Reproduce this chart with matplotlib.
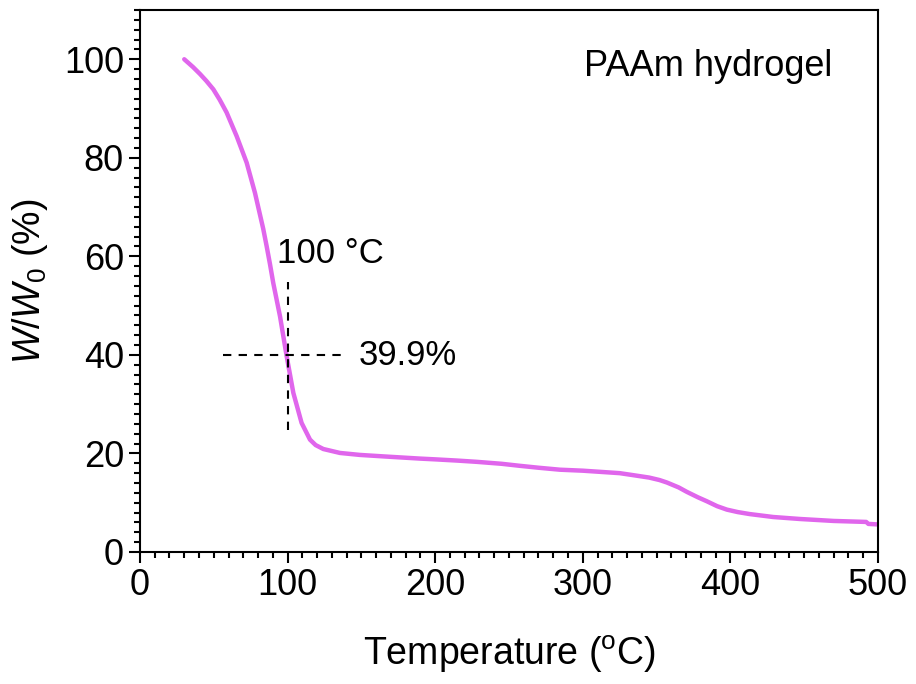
import matplotlib
matplotlib.use('Agg')
import matplotlib.pyplot as plt
from matplotlib.ticker import MultipleLocator

plt.rcParams['font.family'] = ['Liberation Sans', 'DejaVu Sans']
plt.rcParams['mathtext.fontset'] = 'custom'
plt.rcParams['mathtext.rm'] = 'Liberation Sans'
plt.rcParams['mathtext.it'] = 'Liberation Sans:italic'

# TGA curve
temp = [30, 33, 36, 40.7, 45, 49.7, 54, 58.7, 65.5, 72.3, 77.9, 83.5, 85.8, 88.1,
        90.3, 94.9, 99.4, 103.9, 109.5, 115.2, 119, 124.2, 135.5, 149, 165, 176,
        190, 200, 215, 228, 245, 257, 270, 284.5, 300, 315, 325, 334, 345, 352,
        357, 365, 370.5, 378, 384, 391, 397.6, 405, 413, 429, 447, 470, 492,
        493.5, 499.5]
weight = [100, 99.2, 98.4, 97.0, 95.6, 93.9, 91.8, 89.2, 84.4, 79.0, 72.9, 65.6, 62.1, 58.4,
          54.6, 47.8, 39.7, 32.3, 26.2, 22.8, 21.7, 20.9, 20.1, 19.7, 19.4, 19.2,
          18.95, 18.8, 18.55, 18.3, 17.9, 17.5, 17.1, 16.7, 16.5, 16.2, 16.0, 15.6, 15.1, 14.6,
          14.1, 13.1, 12.2, 11.1, 10.3, 9.3, 8.6, 8.1, 7.7, 7.1, 6.7, 6.3, 6.1,
          5.7, 5.6]

mark_t = 100
mark_w = 39.9

fig = plt.figure(figsize=(9.16, 6.84), dpi=100)
ax = fig.add_axes([0.1528, 0.193, 0.8057, 0.7924])

ax.plot(temp, weight, color='#E066EC', lw=3.2, solid_capstyle='round',
        solid_joinstyle='round')

# guide lines at 100 C
ax.plot([mark_t, mark_t], [24.8, 54.7], color='black', lw=1.5, ls=(0, (4, 3.5)))
ax.plot([56, 141], [mark_w, mark_w], color='black', lw=1.5, ls=(0, (4, 3.5)))
ax.text(93, 60.5, '100 °C', fontsize=25, ha='left', va='center')
ax.text(148, mark_w, '39.9%', fontsize=25, ha='left', va='center')
ax.text(469, 98.5, 'PAAm hydrogel', fontsize=26, ha='right', va='center')

ax.set_xlim(0, 500)
ax.set_ylim(0, 110)
ax.set_xticks([0, 100, 200, 300, 400, 500])
ax.set_yticks([0, 20, 40, 60, 80, 100])
ax.xaxis.set_minor_locator(MultipleLocator(10))
ax.yaxis.set_minor_locator(MultipleLocator(2))
ax.tick_params(which='both', direction='out', width=1.5, labelsize=26,
               top=False, right=False)
ax.tick_params(which='major', length=8)
ax.tick_params(which='minor', length=4.5)
for s in ax.spines.values():
    s.set_linewidth(1.5)

ax.set_xlabel('Temperature ($^{\\rm o}$C)', fontsize=27, labelpad=22)
ax.set_ylabel('$W$/$W_0$ (%)', fontsize=27, labelpad=10)

fig.savefig('out.png', dpi=100)
